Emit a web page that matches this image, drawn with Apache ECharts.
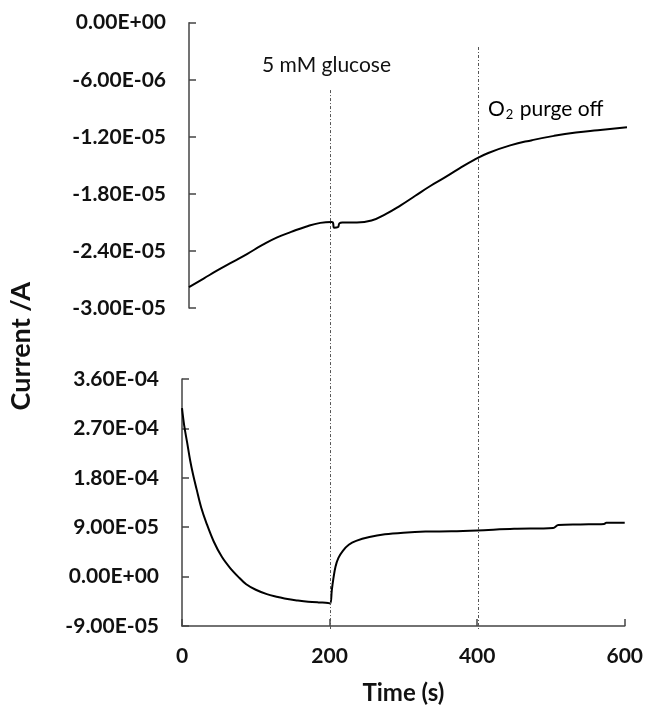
<!DOCTYPE html>
<html>
<head>
<meta charset="utf-8">
<script src="https://cdn.jsdelivr.net/npm/echarts@6/dist/echarts.min.js"></script>
<style>
  html, body { margin: 0; padding: 0; background: #fff; }
  #main { width: 646px; height: 706px; }
</style>
</head>
<body>
<div id="main"></div>
<script>
// top panel: current (A) vs time (s)
var topTime = [0, 20, 40, 60, 80, 100, 120, 140, 160, 180, 195, 197, 199, 204, 206, 210,
  230, 250, 270, 290, 310, 330, 350, 370, 390, 410, 440, 470, 500, 530, 560, 600];
var topCurrent = [-2.78e-5, -2.69e-5, -2.60e-5, -2.515e-5, -2.43e-5, -2.34e-5, -2.26e-5, -2.20e-5,
  -2.145e-5, -2.105e-5, -2.095e-5, -2.10e-5, -2.155e-5, -2.15e-5, -2.11e-5, -2.10e-5,
  -2.10e-5, -2.08e-5, -2.01e-5, -1.92e-5, -1.82e-5, -1.72e-5, -1.63e-5, -1.535e-5,
  -1.445e-5, -1.37e-5, -1.29e-5, -1.235e-5, -1.19e-5, -1.155e-5, -1.13e-5, -1.10e-5];

// bottom panel
var botTime = [0, 3, 7, 11, 15, 20, 26, 33, 43, 54, 65, 76, 87, 100, 115, 130, 143, 157, 171, 185,
  198, 201, 203, 205, 208, 212, 218, 226, 236, 254, 275, 300, 330, 365, 400, 450, 503, 510,
  540, 572, 575, 600];
var botCurrent = [3.07e-4, 2.75e-4, 2.44e-4, 2.12e-4, 1.86e-4, 1.58e-4, 1.26e-4, 9.8e-5, 6.4e-5,
  3.6e-5, 1.6e-5, 0, -1.4e-5, -2.4e-5, -3.2e-5, -3.7e-5, -4.1e-5, -4.35e-5, -4.56e-5, -4.7e-5,
  -4.8e-5, -4.9e-5, -2.5e-5, -5e-6, 1.8e-5, 3.4e-5, 4.7e-5, 5.8e-5, 6.5e-5, 7.2e-5, 7.7e-5,
  8.0e-5, 8.2e-5, 8.25e-5, 8.4e-5, 8.7e-5, 8.85e-5, 9.4e-5, 9.5e-5, 9.6e-5, 9.8e-5, 9.8e-5];

var timeTicks = [0, 200, 400, 600];
var topTicks = [-3.0e-5, 0, 6.0e-6];     // min, max, interval
var botTicks = [-9.0e-5, 3.6e-4, 9.0e-5]; // min, max, interval

var eventTimes = [200, 400];
var eventLabels = ['5 mM glucose', 'O2 purge off'];

function pairs(xs, ys) {
  return xs.map(function (x, i) { return [x, ys[i]]; });
}

function sci(v) {
  if (Math.abs(v) < 1e-12) v = 0;
  var parts = v.toExponential(2).toUpperCase().split('E');
  var e = parseInt(parts[1], 10);
  return parts[0] + 'E' + (e < 0 ? '-' : '+') + String(Math.abs(e)).padStart(2, '0');
}

var font = 'Lato, "Open Sans", sans-serif';
var axisColor = '#444';

var yLabel = {
  fontFamily: font, fontWeight: 'bold', fontSize: 21, color: '#111',
  margin: 23, formatter: sci
};

var chart = echarts.init(document.getElementById('main'));

chart.setOption({
  backgroundColor: '#fff',
  animation: false,
  grid: [
    { left: 189, right: 19, top: 22.7, bottom: 398 },
    { left: 182, right: 19, top: 379, bottom: 77 },
    { left: 182, right: 19, top: 47, bottom: 77 }
  ],
  xAxis: [
    { gridIndex: 0, type: 'value', min: timeTicks[0], max: timeTicks[3], show: false },
    {
      gridIndex: 1, type: 'value', min: timeTicks[0], max: timeTicks[3],
      interval: timeTicks[1] - timeTicks[0],
      name: 'Time (s)', nameLocation: 'middle', nameGap: 55,
      nameTextStyle: { fontFamily: font, fontWeight: 'bold', fontSize: 24, color: '#111' },
      axisLine: { onZero: false, lineStyle: { color: axisColor, width: 1.5 } },
      axisTick: { inside: true, length: 7, lineStyle: { color: axisColor, width: 1.5 } },
      axisLabel: { fontFamily: font, fontWeight: 'bold', fontSize: 21, color: '#111', margin: 20 },
      splitLine: { show: false }
    },
    { gridIndex: 2, type: 'value', min: timeTicks[0], max: timeTicks[3], show: false }
  ],
  yAxis: [
    {
      gridIndex: 0, type: 'value', min: topTicks[0], max: topTicks[1], interval: topTicks[2],
      axisLine: { show: true, onZero: false, lineStyle: { color: axisColor, width: 1.5 } },
      axisTick: { show: true, inside: true, length: 7, lineStyle: { color: axisColor, width: 1.5 } },
      axisLabel: yLabel,
      splitLine: { show: false }
    },
    {
      gridIndex: 1, type: 'value', min: botTicks[0], max: botTicks[1], interval: botTicks[2],
      axisLine: { show: true, onZero: false, lineStyle: { color: axisColor, width: 1.5 } },
      axisTick: { show: true, inside: true, length: 7, lineStyle: { color: axisColor, width: 1.5 } },
      axisLabel: yLabel,
      splitLine: { show: false }
    },
    { gridIndex: 2, type: 'value', min: 0, max: 1, show: false }
  ],
  graphic: [
    {
      type: 'text', left: 8, top: 282, rotation: Math.PI / 2,
      style: { text: 'Current /A', font: 'bold 27px ' + font, fill: '#111' }
    },
    {
      type: 'text', left: 262, top: 55,
      style: { text: eventLabels[0], font: '21px ' + font, fill: '#111' }
    },
    {
      type: 'text', left: 488, top: 99,
      style: {
        text: '{a|O}{b|2}{a| purge off}',
        rich: {
          a: { fontFamily: font, fontSize: 21, color: '#111' },
          b: { fontFamily: font, fontSize: 13, color: '#111', padding: [10, 1, 0, 1] }
        }
      }
    }
  ],
  series: [
    {
      type: 'line', xAxisIndex: 0, yAxisIndex: 0,
      data: pairs(topTime, topCurrent),
      showSymbol: false, smooth: 0.5,
      lineStyle: { color: '#000', width: 2 }
    },
    {
      type: 'line', xAxisIndex: 1, yAxisIndex: 1,
      data: pairs(botTime, botCurrent),
      showSymbol: false, smooth: 0.35,
      lineStyle: { color: '#000', width: 2 }
    },
    {
      type: 'line', xAxisIndex: 2, yAxisIndex: 2,
      data: [], showSymbol: false, silent: true,
      markLine: {
        silent: true, symbol: 'none', label: { show: false },
        lineStyle: { color: '#555', width: 1, type: [3, 2, 1, 2] },
        data: [
          [{ coord: [eventTimes[0], 0.926] }, { coord: [eventTimes[0], 0] }],
          [{ coord: [eventTimes[1], 1] }, { coord: [eventTimes[1], 0] }]
        ]
      }
    }
  ]
});
</script>
</body>
</html>
